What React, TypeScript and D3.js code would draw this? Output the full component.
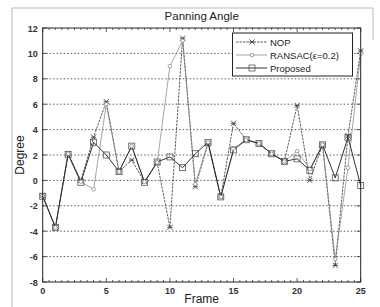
import { useEffect, useRef } from "react";
import * as d3 from "d3";

const frames = d3.range(0, 26);
const nop = [-1.2, -3.7, 2.1, 0, 3.4, 6.2, 0.7, 1.6, -0.1, 1.4, -3.7, 11.2, -0.5, 2.9, -1.3, 4.5, 3.2, 2.9, 2.1, 1.5, 5.9, 0, 2.8, -6.7, 3.5, 10.2];
const ransac = [-1.2, -3.7, 2.1, -0.1, -0.7, 6.0, 0.7, 2.7, -0.1, 1.4, 9.0, 11.0, -0.3, 3.0, -1.3, 2.5, 3.2, 2.9, 2.1, 1.5, 2.3, 0.9, 2.8, -6.2, 1.0, 10.0];
const proposed = [-1.25, -3.7, 2.05, -0.15, 3.0, 2.0, 0.7, 2.7, -0.15, 1.45, 1.85, 1.0, 2.1, 3.0, -1.3, 2.4, 3.2, 2.9, 2.1, 1.5, 1.7, 0.8, 2.8, 0.2, 3.4, -0.4];
const yTicks = [12, 10, 8, 6, 4, 2, 0, -2, -4, -6, -8];
const xTicks = [0, 5, 10, 15, 20, 25];
const legendNames = ["NOP", "RANSAC(ε=0.2)", "Proposed"];

const W = 380, H = 307;
const plot = { left: 42.7, right: 360.7, top: 28, bottom: 282 };
const font = "Liberation Sans, Arial, sans-serif";

const series = [
  { name: legendNames[0], values: nop, stroke: "#333", width: 0.8, dash: "2.5,1", marker: "star" },
  { name: legendNames[1], values: ransac, stroke: "#808080", width: 0.7, dash: null, marker: "circle" },
  { name: legendNames[2], values: proposed, stroke: "#1a1a1a", width: 0.9, dash: null, marker: "square" },
];

function drawMarker(g: any, kind: string, x: number, y: number, color: string) {
  if (kind === "circle") {
    g.append("circle").attr("cx", x).attr("cy", y).attr("r", 1.8).attr("fill", "white").attr("stroke", color).attr("stroke-width", 0.7);
  } else if (kind === "square") {
    g.append("rect").attr("x", x - 3).attr("y", y - 3).attr("width", 6).attr("height", 6)
      .attr("fill", "none").attr("stroke", "#555").attr("stroke-width", 0.8);
  } else {
    const s = 2.6;
    g.append("path")
      .attr("d", `M${x - s},${y - s}L${x + s},${y + s}M${x - s},${y + s}L${x + s},${y - s}M${x - s},${y}L${x + s},${y}`)
      .attr("stroke", color).attr("stroke-width", 0.8).attr("fill", "none");
  }
}

export default function App() {
  const ref = useRef<SVGSVGElement>(null);

  useEffect(() => {
    const svg = d3.select(ref.current!);
    svg.selectAll("*").remove();

    const x = d3.scaleLinear().domain([0, 25]).range([plot.left, plot.right]);
    const y = d3.scaleLinear().domain([-8, 12]).range([plot.bottom, plot.top]);

    svg.append("rect").attr("width", W).attr("height", H).attr("fill", "white");
    // figure frame (scanned look)
    svg.append("path").attr("d", `M12,${H}L12,8L373,8L373,40`)
      .attr("fill", "none").attr("stroke", "#aaa").attr("stroke-width", 0.8);

    // grid
    svg.append("g").selectAll("line").data(yTicks.filter((t) => t !== 12 && t !== -8)).enter().append("line")
      .attr("x1", plot.left).attr("x2", plot.right)
      .attr("y1", (d) => y(d)).attr("y2", (d) => y(d))
      .attr("stroke", "#333").attr("stroke-width", 0.8).attr("stroke-dasharray", "1.5,2");

    // minor ticks top and bottom
    const minor = d3.range(0, 25.01, 0.5);
    const tg = svg.append("g").attr("stroke", "#333").attr("stroke-width", 0.8);
    minor.forEach((m) => {
      const len = m % 5 === 0 ? 4 : 2;
      tg.append("line").attr("x1", x(m)).attr("x2", x(m)).attr("y1", plot.bottom).attr("y2", plot.bottom - len);
      tg.append("line").attr("x1", x(m)).attr("x2", x(m)).attr("y1", plot.top).attr("y2", plot.top + len);
    });
    yTicks.forEach((t) => {
      tg.append("line").attr("x1", plot.left).attr("x2", plot.left + 4).attr("y1", y(t)).attr("y2", y(t));
      tg.append("line").attr("x1", plot.right).attr("x2", plot.right - 4).attr("y1", y(t)).attr("y2", y(t));
    });

    // series
    series.forEach((s) => {
      const line = d3.line<number>().x((_, i) => x(frames[i])).y((d) => y(d));
      svg.append("path").attr("d", line(s.values)!).attr("fill", "none")
        .attr("stroke", s.stroke).attr("stroke-width", s.width)
        .attr("stroke-dasharray", s.dash);
    });
    series.forEach((s) => {
      const mg = svg.append("g");
      s.values.forEach((v, i) => drawMarker(mg, s.marker, x(frames[i]), y(v), s.stroke));
    });

    // plot box
    svg.append("rect").attr("x", plot.left).attr("y", plot.top)
      .attr("width", plot.right - plot.left).attr("height", plot.bottom - plot.top)
      .attr("fill", "none").attr("stroke", "#222").attr("stroke-width", 1);

    // tick labels
    svg.append("g").selectAll("text").data(yTicks).enter().append("text")
      .attr("x", plot.left - 5).attr("y", (d) => y(d) + 3.5)
      .attr("text-anchor", "end").attr("font-family", font).attr("font-size", 9)
      .attr("font-weight", "bold").attr("fill", "#333").text((d) => d);
    svg.append("g").selectAll("text").data(xTicks).enter().append("text")
      .attr("x", (d) => x(d)).attr("y", plot.bottom + 12)
      .attr("text-anchor", "middle").attr("font-family", font).attr("font-size", 9)
      .attr("font-weight", "bold").attr("fill", "#333").text((d) => d);

    // titles
    svg.append("text").attr("x", (plot.left + plot.right) / 2).attr("y", 20)
      .attr("text-anchor", "middle").attr("font-family", font).attr("font-size", 11.5)
      .attr("fill", "#222").text("Panning Angle");
    svg.append("text").attr("x", (plot.left + plot.right) / 2).attr("y", 303)
      .attr("text-anchor", "middle").attr("font-family", font).attr("font-size", 12)
      .attr("fill", "#222").text("Frame");
    svg.append("text").attr("transform", `translate(24,${(plot.top + plot.bottom) / 2}) rotate(-90)`)
      .attr("text-anchor", "middle").attr("font-family", font).attr("font-size", 12)
      .attr("fill", "#222").text("Degree");

    // legend
    const lg = svg.append("g");
    lg.append("rect").attr("x", 232.5).attr("y", 33).attr("width", 120).attr("height", 43)
      .attr("fill", "white").attr("stroke", "#222").attr("stroke-width", 1);
    const rows = [42, 55, 68];
    series.forEach((s, i) => {
      const ly = rows[i];
      lg.append("line").attr("x1", 236).attr("x2", 267).attr("y1", ly).attr("y2", ly)
        .attr("stroke", s.stroke).attr("stroke-width", s.width).attr("stroke-dasharray", s.dash);
      drawMarker(lg, s.marker, 252, ly, s.stroke);
      lg.append("text").attr("x", 270).attr("y", ly + 3.5).attr("font-family", font)
        .attr("font-size", 9.5).attr("fill", "#222").text(s.name);
    });
  }, []);

  return <svg ref={ref} width={W} height={H} style={{ display: "block", position: "absolute", left: 0, top: 0 }} />;
}
